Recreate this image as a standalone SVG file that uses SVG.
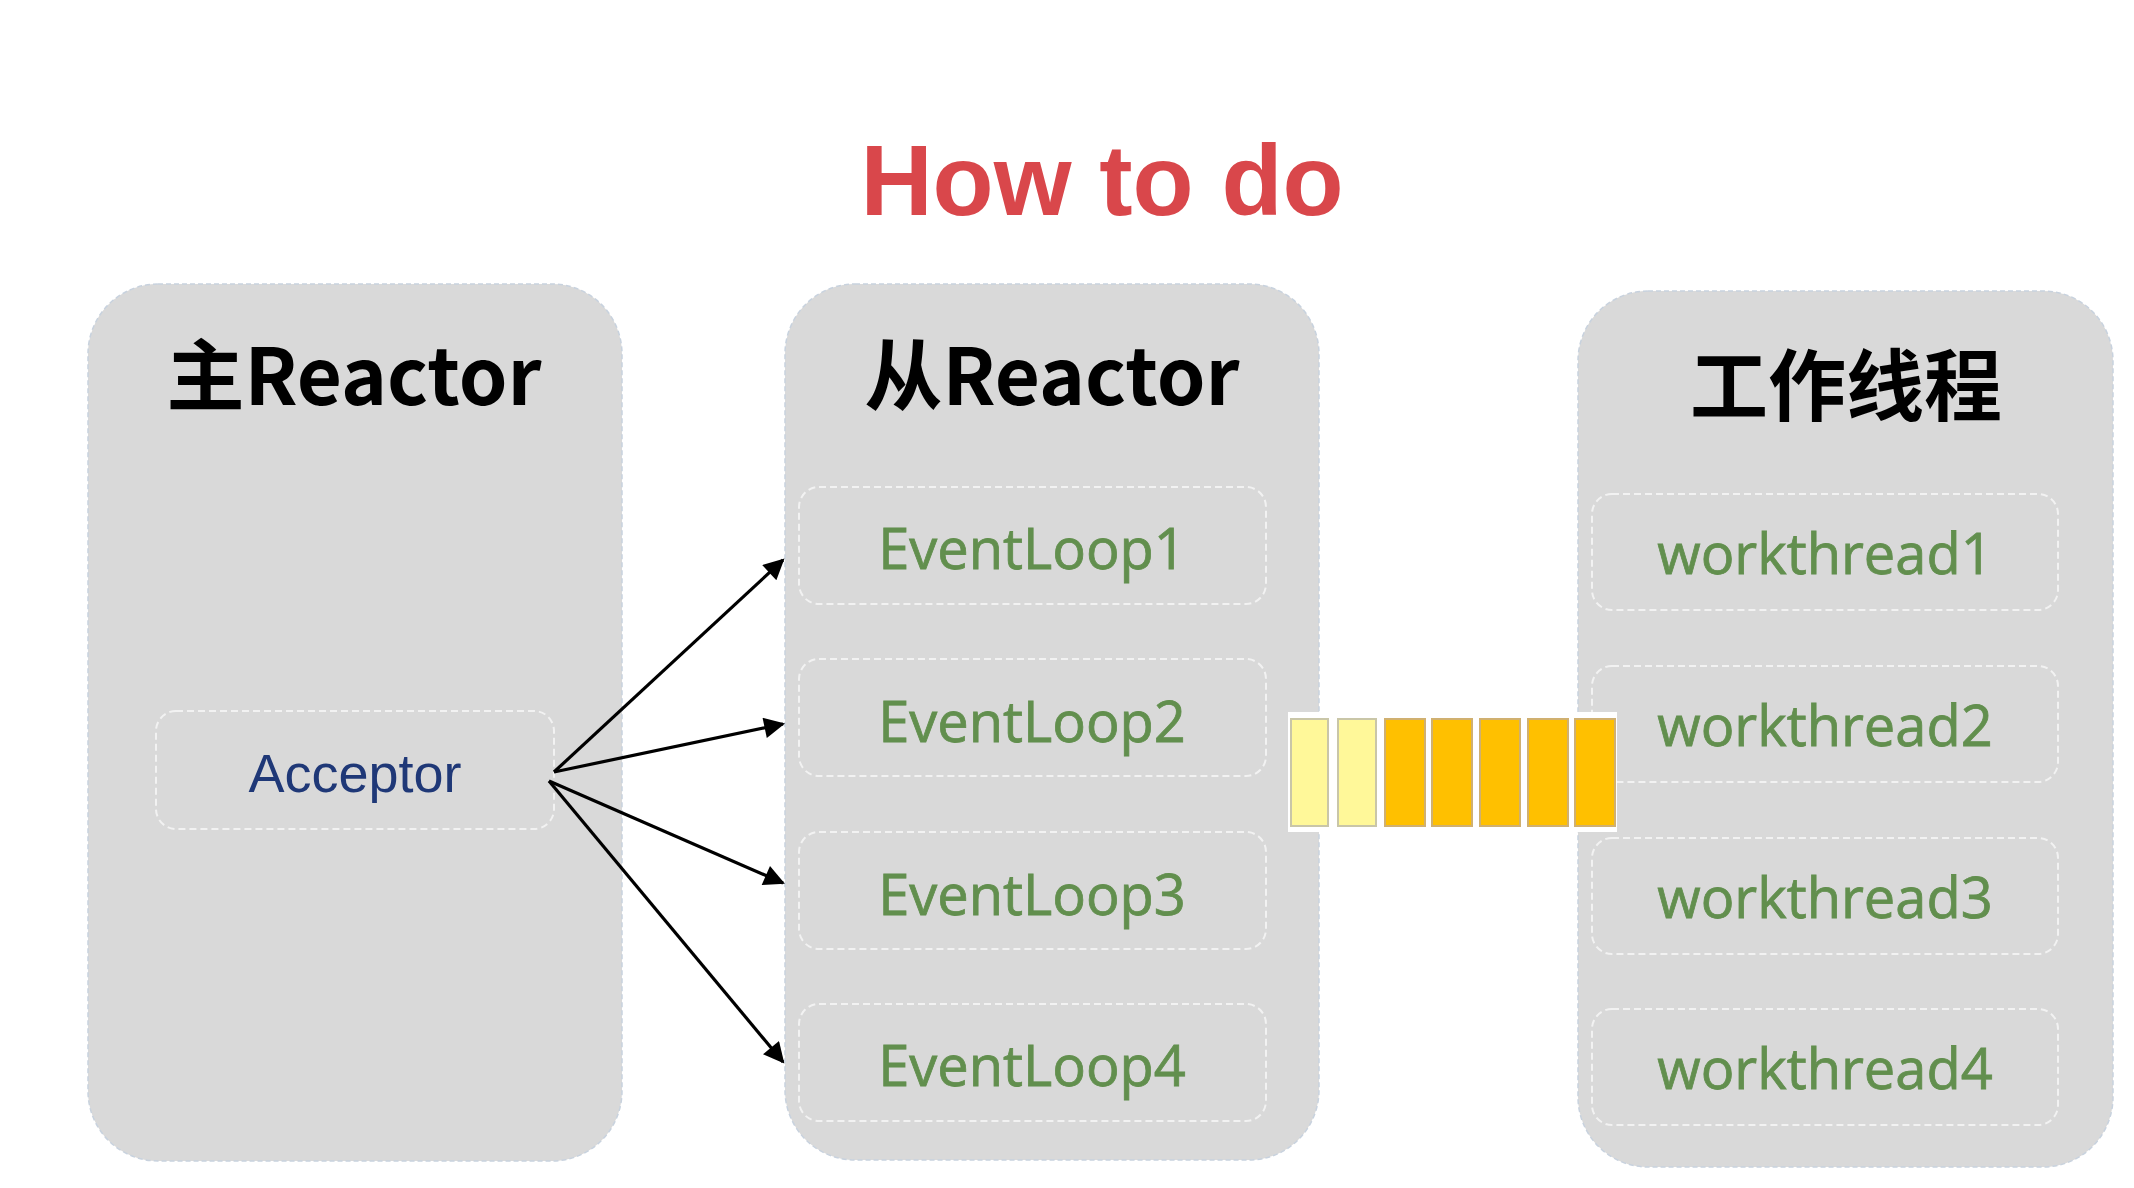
<svg xmlns="http://www.w3.org/2000/svg" width="2134" height="1188" viewBox="0 0 2134 1188">
<defs>
<style>
.panel{fill:#d9d9d9;stroke:#c8d2de;stroke-width:1.5;stroke-dasharray:5 3}
.inner{fill:#d9d9d9;stroke:#f2f2f2;stroke-width:2;stroke-dasharray:7 4}
.ptitle{font-family:"Noto Sans CJK SC","Noto Sans",sans-serif;font-weight:700;font-size:78px;fill:#000;text-anchor:middle}
.green{font-family:"Open Sans","Noto Sans",sans-serif;font-size:56px;fill:#628f4e;text-anchor:middle;stroke:#628f4e;stroke-width:0.8}
.blue{font-family:"Liberation Sans",Arial,sans-serif;font-size:54px;fill:#1f3877;text-anchor:middle}
.conn{stroke:#000;stroke-width:3.2;fill:none}
.lite{fill:#fff899;stroke:#c9c6a8;stroke-width:2}
.dark{fill:#ffc000;stroke:#d0b070;stroke-width:2}
</style>
<marker id="ah" viewBox="0 0 10 10" refX="9" refY="5" markerWidth="7.5" markerHeight="6.5" markerUnits="strokeWidth" orient="auto">
<path d="M0,0 L10,5 L0,10 z" fill="#000"/>
</marker>
</defs>
<rect width="2134" height="1188" fill="#ffffff"/>
<text x="1102" y="215" font-family="Liberation Sans,Arial,sans-serif" font-weight="700" font-size="100" fill="#d9474b" text-anchor="middle">How to do</text>

<g id="main-reactor">
<rect class="panel" x="88" y="284" width="534" height="877" rx="70" ry="70"/>
<text class="ptitle" x="354" y="405">主Reactor</text>
</g>
<g id="acceptor">
<rect class="inner" x="156" y="711" width="398" height="118" rx="20"/>
<text class="blue" x="355" y="792">Acceptor</text>
</g>

<g id="sub-reactor">
<rect class="panel" x="785" y="284" width="534" height="876" rx="70" ry="70"/>
<text class="ptitle" x="1052" y="405">从Reactor</text>
</g>
<g id="eventloop1"><rect class="inner" x="799" y="487" width="467" height="117" rx="20"/><text class="green" x="1032" y="569">EventLoop1</text></g>
<g id="eventloop2"><rect class="inner" x="799" y="659" width="467" height="117" rx="20"/><text class="green" x="1032" y="742">EventLoop2</text></g>
<g id="eventloop3"><rect class="inner" x="799" y="832" width="467" height="117" rx="20"/><text class="green" x="1032" y="915">EventLoop3</text></g>
<g id="eventloop4"><rect class="inner" x="799" y="1004" width="467" height="117" rx="20"/><text class="green" x="1032" y="1086">EventLoop4</text></g>

<g id="workers">
<rect class="panel" x="1578" y="291" width="535" height="876" rx="70" ry="70"/>
<text class="ptitle" x="1846" y="415">工作线程</text>
</g>
<g id="workthread1"><rect class="inner" x="1592" y="494" width="466" height="116" rx="20"/><text class="green" x="1825" y="574">workthread1</text></g>
<g id="workthread2"><rect class="inner" x="1592" y="666" width="466" height="116" rx="20"/><text class="green" x="1825" y="746">workthread2</text></g>
<g id="workthread3"><rect class="inner" x="1592" y="838" width="466" height="116" rx="20"/><text class="green" x="1825" y="918">workthread3</text></g>
<g id="workthread4"><rect class="inner" x="1592" y="1009" width="466" height="116" rx="20"/><text class="green" x="1825" y="1089">workthread4</text></g>

<g id="queue">
<rect x="1288" y="712" width="329" height="120" fill="#ffffff"/>
<rect class="lite" x="1291" y="719" width="37" height="107"/>
<rect class="lite" x="1338" y="719" width="38" height="107"/>
<rect class="dark" x="1385" y="719" width="40" height="107"/>
<rect class="dark" x="1432" y="719" width="40" height="107"/>
<rect class="dark" x="1480" y="719" width="40" height="107"/>
<rect class="dark" x="1528" y="719" width="40" height="107"/>
<rect class="dark" x="1575" y="719" width="40" height="107"/>
</g>

<g id="connectors">
<line class="conn" x1="554" y1="772" x2="783" y2="560" marker-end="url(#ah)"/>
<line class="conn" x1="554" y1="772" x2="783" y2="724" marker-end="url(#ah)"/>
<line class="conn" x1="549" y1="781" x2="783" y2="883" marker-end="url(#ah)"/>
<line class="conn" x1="549" y1="781" x2="783" y2="1062" marker-end="url(#ah)"/>
</g>
</svg>
